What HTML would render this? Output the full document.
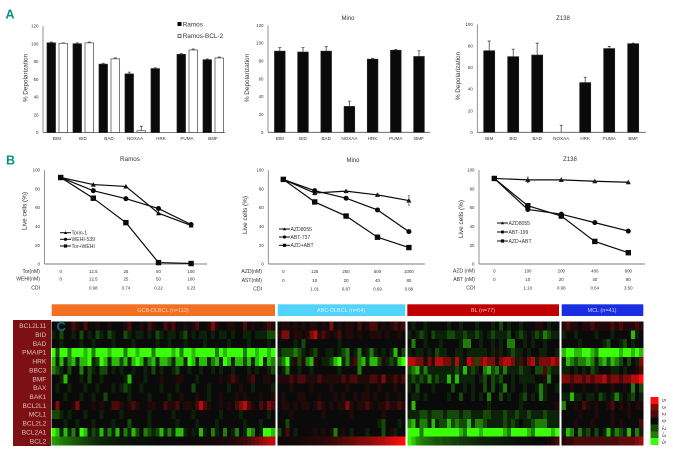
<!DOCTYPE html>
<html>
<head>
<meta charset="utf-8">
<title>BH3 profiling figure</title>
<style>
html,body{margin:0;padding:0;background:#fff;width:673px;height:451px;overflow:hidden}
svg{display:block;font-family:"Liberation Sans",sans-serif}
text{fill:#333}
</style>
</head>
<body>
<svg id="fig" width="673" height="451" viewBox="0 0 673 451" xmlns="http://www.w3.org/2000/svg">
  <text x="5.5" y="18.7" font-size="12.5" font-weight="bold" style="fill:#0f8c8c">A</text>
  <text x="6" y="164.7" font-size="12.5" font-weight="bold" style="fill:#0f8c8c">B</text>
  <text x="348" y="20" font-size="6" text-anchor="middle">Mino</text>
  <text x="563" y="20" font-size="6" text-anchor="middle">Z138</text>
  <text x="130" y="161" font-size="6.3" text-anchor="middle">Ramos</text>
  <text x="353" y="162" font-size="6" text-anchor="middle">Mino</text>
  <text x="570" y="161" font-size="6" text-anchor="middle">Z138</text>
  <rect x="177.5" y="22" width="4" height="4" fill="#000"/>
  <text x="182.7" y="26.6" font-size="6.4">Ramos</text>
  <rect x="178" y="34.5" width="3" height="3" fill="#fff" stroke="#333" stroke-width=".7"/>
  <text x="182.7" y="38" font-size="6.4">Ramos-BCL-2</text>
  <rect x="13" y="320" width="38" height="126" fill="#7c1012"/>
  <rect x="51.7" y="304.3" width="223.3" height="11.7" fill="#f36f21"/>
  <text x="163" y="312" font-size="5.5" text-anchor="middle" style="fill:#f6d9b8">GCB-DLBCL (n=112)</text>
  <rect x="277.7" y="304.3" width="127.6" height="11.7" fill="#52d3fa"/>
  <text x="341" y="312" font-size="5.5" text-anchor="middle" style="fill:#d8f4fc">ABC-DLBCL (n=64)</text>
  <rect x="407.3" y="304.3" width="151.7" height="11.7" fill="#c00000"/>
  <text x="483" y="312" font-size="5.5" text-anchor="middle" style="fill:#f0c0c0">BL (n=77)</text>
  <rect x="561.7" y="304.3" width="81.6" height="11.7" fill="#1a2fe2"/>
  <text x="602" y="312" font-size="5.5" text-anchor="middle" style="fill:#c8d0f8">MCL (n=41)</text>
</svg>
<script>
const barCategories = ['BIM','BID','BAD','NOXAA','HRK','PUMA','BMF'];
const ramosValues = [101,100,77,66,72,88,82];
const ramosErrors = [1,1,1,2,1,1,1];
const ramosBcl2Values = [100.5,101,83,2,0,93,84];
const ramosBcl2Errors = [0.5,1,1,5,0,1,1];
const minoValues = [91,90,91,29,82,92,85];
const minoErrors = [4,5,5,6,1,1,6.5];
const z138Values = [75.5,70,71.5,0,46,77.5,82];
const z138Errors = [9,7,11,6.5,5,2,0.5];
const barTicks120 = [0,20,40,60,80,100,120];
const barTicks100 = [0,20,40,60,80,100];
const lineTicks = [0,20,40,60,80,100];

const ramosTorin = [92,84.5,82.5,54,41];
const ramosWehi = [92,78,69.5,59,42];
const ramosCombo = [92,70,44,1.5,0.5];
const ramosSeriesNames = ['Torin-1','WEHI-539','Tor+WEHI'];
const ramosRowLabels = ['Tor(nM)','WEHI(nM)','CDI'];
const ramosRow1 = ['0','12.5','25','50','100'];
const ramosRow2 = ['0','12.5','25','50','100'];
const ramosCdi = ['','0.98','0.74','0.22','0.23'];

const minoAzd = [90,75.5,77.5,73.5,67.5];
const minoAbt = [90,78,70,57.5,34.5];
const minoCombo = [90,66,51,28.5,17.5];
const minoAzdErrors = [0,2,1,1.5,5];
const minoSeriesNames = ['AZD8055','ABT-737','AZD+ABT'];
const minoRowLabels = ['AZD(nM)','AST(nM)','CDI'];
const minoRow1 = ['0','125','250','500','1000'];
const minoRow2 = ['0','10','20','40','80'];
const minoCdi = ['','1.01','0.87','0.69','0.89'];

const z138Azd = [91,89.5,89.5,88,87];
const z138Abt = [91,58,53,44,35];
const z138Combo = [91,62,51,24,12];
const z138AzdErrors = [0,3,2,1,1];
const z138SeriesNames = ['AZD8055','ABT-199','AZD+ABT'];
const z138RowLabels = ['AZD (nM)','ABT (nM)','CDI'];
const z138Row1 = ['0','100','200','400','800'];
const z138Row2 = ['0','10','20','40','80'];
const z138Cdi = ['','1.10','0.98','0.64','3.50'];

const geneNames = ['BCL2L11','BID','BAD','PMAIP1','HRK','BBC3','BMF','BAX','BAK1','BCL2L1','MCL1','BCL2L2','BCL2A1','BCL2'];
const legendValues = [5,3,2,0,-2,-3,-5];

const gcbCells = [
[0,0,0,0,0,2,1,0,2,0,0,1,0,0,1,0,0,0,1,2,0,0,1,0,2,1,0,0,2,1,2,0,0,1,0,1,2,0,0,1,3,1,0,0,1,1,0,0,2,0,1,0,0,1,2,1],
[-1,0,-2,0,0,-1,0,-2,0,-1,0,-2,-1,0,-2,-1,0,0,-2,-1,0,-1,-1,0,-1,0,-2,-1,0,-1,-1,0,-1,-2,0,-1,0,-1,-1,0,-1,0,-1,-1,0,-1,0,0,-1,-1,0,-1,-1,-1,-2,-2],
[0,0,-1,0,0,0,0,-1,0,0,-1,0,0,0,0,-1,0,0,0,0,-1,0,0,0,0,0,-1,0,0,-1,0,0,0,-1,0,0,0,0,-1,0,0,0,0,0,-1,0,0,0,0,-1,0,0,0,0,-1,0],
[-5,-2,-5,-5,-3,-5,-5,-5,-4,-5,-3,-5,-5,-5,-4,-5,-5,-5,-3,-5,-5,-4,-5,-5,-5,-3,-5,-5,-5,-5,-4,-5,-3,-5,-5,-4,-5,-5,-5,-5,-5,-3,-5,-4,-5,-5,-5,-5,-3,-5,-5,-4,-5,-5,-4,-5],
[-4,-1,-4,-1,-3,-4,-1,-4,-4,-5,-1,-2,-5,-4,-1,-4,-4,-2,-4,-1,-4,-5,-4,-1,-3,-4,-1,-4,-4,-3,-1,-4,-4,-1,-5,-4,-1,-4,-4,-1,-3,-4,-1,-5,-4,-1,-4,-4,-2,-4,-1,-4,-5,-1,-4,-3],
[-3,-2,-1,0,-2,0,0,-3,0,-2,-1,0,-2,-2,0,-1,0,-1,0,0,-1,0,0,-1,0,-2,0,-1,0,0,-1,-2,0,0,-1,0,0,-1,0,0,-1,0,-1,0,0,-1,0,0,0,-1,0,-1,0,0,-1,-2],
[0,0,-1,-4,0,0,0,-1,0,-2,0,0,-1,0,0,0,0,0,-1,-4,0,0,0,-1,0,0,0,1,0,0,0,1,1,0,0,0,-1,0,0,0,0,0,1,0,1,2,1,0,0,1,2,0,0,1,1,0],
[0,-1,0,0,-1,0,0,0,-1,0,0,-1,0,0,0,-1,0,-1,-2,-1,0,0,-1,0,0,0,0,-1,0,0,0,-1,0,0,0,-2,0,0,0,-1,0,0,0,0,-1,0,0,1,0,0,-1,0,0,0,0,-1],
[0,0,0,-1,0,0,0,-1,0,0,-1,0,0,-2,0,0,0,0,0,-1,0,0,0,0,-1,0,0,0,0,-1,0,0,1,0,0,0,1,0,0,-1,0,0,1,0,0,0,1,0,1,0,0,0,1,0,0,1],
[0,3,0,0,0,1,3,0,0,0,1,0,1,0,0,2,2,1,0,1,2,1,0,0,1,1,0,0,2,1,1,2,0,1,1,0,2,4,2,1,0,0,1,0,1,0,2,3,4,2,1,0,2,1,3,2],
[-2,-2,-1,0,-1,0,0,0,-1,0,0,0,-1,0,0,0,0,-1,0,0,0,0,0,0,-1,0,0,0,0,0,-1,0,0,0,0,-1,0,0,0,0,0,0,-1,0,0,0,0,-1,0,0,0,0,0,0,-1,0],
[0,0,0,-1,0,0,-1,0,0,0,-1,0,0,0,0,-1,0,0,0,-2,0,0,0,0,-1,0,0,0,0,0,0,-1,0,0,0,0,-1,0,0,0,0,-1,0,0,0,0,0,0,-1,0,0,0,-1,0,0,0],
[-5,-4,-1,-4,-1,-3,0,-5,-4,0,-2,-1,-4,-1,-3,-1,-4,0,-3,-1,-4,-2,0,-3,-2,-1,-2,-4,-1,-3,-1,-4,-4,-1,0,-1,0,-4,-1,0,-3,-1,0,-3,0,-1,-3,0,-1,-4,-3,0,-1,-5,-5,-4],
[-3.5,-3.3,-3,-2.8,-2.6,-2.4,-2.2,-2,-1.8,-1.6,-1.4,-1.2,-1,-1,-.8,-.8,-.6,-.6,-.5,-.5,-.4,-.4,-.3,-.3,-.2,-.2,0,0,0,0,0,0,0,0,.2,.2,.3,.3,.4,.4,.5,.6,.7,.8,.9,1,1.2,1.4,1.7,2,2.4,2.8,3.2,3.6,4,4]
];
const abcCells = [
[0,1,1,0,1,0,1,0,1,1,0,1,0,3,0,1,0,1,1,0,2,0,1,2,2,0,1,0,1,2,1,2],
[1,3,3,0,1,1,0,1,3,4,1,2,1,0,1,2,0,1,1,0,1,0,0,1,1,1,0,1,0,0,1,0],
[0,0,0,0,-1,0,-2,0,0,0,0,0,0,0,0,-1,0,0,0,0,0,0,0,0,0,0,0,0,0,0,0,0],
[-1,-2,-2,-2,-3,-2,-1,0,-1,-2,0,0,-1,-1,0,-1,-2,-3,0,-1,-3,0,-1,-3,-1,0,-1,0,-1,-4,0,-2],
[-2,-3,-5,-1,1,-2,1,-3,-4,1,0,-1,-1,-2,-4,-5,-1,-3,1,2,-3,-4,-1,-4,-4,-2,1,-1,-2,-1,-4,-5],
[0,-1,-3,0,0,-1,0,0,-1,0,0,0,0,0,0,-1,0,0,0,0,-3,0,0,0,0,0,0,0,0,0,0,0],
[1,1,1,2,1,2,2,1,1,1,2,1,1,1,1,1,2,1,2,2,1,1,1,2,2,1,3,1,1,2,1,2],
[0,0,0,1,0,0,0,0,1,0,0,0,0,1,0,0,0,1,0,0,0,0,1,0,0,1,0,0,0,1,0,0],
[0,1,0,0,0,1,1,0,0,0,1,0,0,0,1,0,1,0,0,1,0,1,1,0,1,0,0,1,0,0,1,0],
[0,1,1,0,1,0,1,1,0,1,2,1,0,1,0,1,1,3,1,0,1,1,2,1,0,1,1,2,1,1,2,1],
[0,0,0,1,0,0,0,0,0,0,0,1,0,0,0,0,0,0,1,0,0,0,0,0,0,0,1,0,0,0,0,0],
[0,0,-2,0,0,0,0,0,0,0,0,0,0,0,0,0,0,0,0,0,0,0,0,0,0,-1,-2,0,0,0,-1,0],
[-2,0,2,0,-1,0,0,0,0,1,0,1,0,1,-3,0,1,0,-1,0,0,0,-1,0,0,0,-2,0,1,-1,0,0],
[.2,.2,.4,.5,.6,.7,.8,.9,1,1.1,1.2,1.3,1.4,1.6,1.8,2,2.2,2.4,2.6,2.8,3,3,3.2,3.4,3.6,3.8,4,4.2,4.4,4.6,4.8,5]
];
const blCells = [
[0,-1,0,0,-1,0,0,0,0,0,-1,0,0,-1,0,0,0,-1,0,0,0,-1,0,-2,0,-1,0,0,-1,0,0,0,1,1,0,-1,0,0],
[-1,0,-1,-2,-1,0,-2,-1,-1,-1,-2,-2,-1,-1,-2,-1,-1,-2,-1,0,-1,-2,-1,-1,-1,-2,0,-1,-2,-1,0,-1,-2,-1,-3,-2,-1,-1],
[0,-3,0,0,-1,0,0,0,-1,0,0,0,0,-1,-3,-3,0,0,-1,0,0,-1,0,-1,0,-3,-3,0,0,-1,0,-1,0,0,-1,0,0,0],
[-1,0,-1,-1,0,-1,0,-2,-1,-1,0,0,-1,-1,0,-1,-1,-1,-1,-1,0,-1,1,-1,0,-1,-2,-1,-1,0,-1,0,0,-1,-1,0,0,-1],
[4,4,3,3,1,3,1,4,4,3,3,-1,4,-1,1,4,3,-2,3,4,3,3,1,3,4,4,3,-1,2,1,3,4,-1,3,3,3,4,3],
[-2,-3,-4,-1,-3,-1,-1,-1,-1,-1,-1,-1,-2,-1,-4,-1,-2,-1,0,-3,-4,-2,-3,-1,-3,-1,-1,-1,-2,-1,-1,0,-2,-2,2,-2,-1,-1],
[-1,-2,-1,-2,-1,-3,-1,-2,-1,-1,-4,-1,-4,-1,-1,-1,-1,0,-1,-2,0,-2,-1,-2,0,0,-1,0,-1,-1,-1,-1,0,0,1,-3,0,0],
[-1,0,-2,0,0,0,-1,0,0,0,0,-2,0,0,-1,0,-1,0,0,-2,0,-2,0,-1,-3,0,-1,0,0,-1,0,0,-1,-3,-1,0,0,-1],
[0,-1,-1,0,-1,0,0,0,0,0,-1,0,0,-2,0,0,-1,0,-1,0,-3,0,0,-2,0,-1,0,0,-1,-2,0,-1,0,-3,-1,0,0,0],
[0,-4,0,0,0,0,0,0,0,0,0,0,0,0,0,0,0,0,0,0,-1,0,0,0,0,0,0,0,-1,0,0,0,0,0,0,0,0,1],
[-1,-1,-1,-2,-2,-1,-2,-2,-2,-1,-2,-2,-2,-1,-2,-2,-1,-1,-1,-2,-2,-1,-1,-1,-2,-1,-1,-2,-1,-1,-2,-1,-1,-1,-2,-1,-1,-1],
[-3,-4,-1,-3,-3,-1,-4,-1,-2,-2,-4,-2,-3,-2,-2,-4,-1,-3,-3,-2,-1,-1,-1,-1,-2,-1,-2,-1,0,-1,-1,-2,-3,-3,-3,-1,-1,-1],
[-5,-5,-5,-3,-5,-5,-5,-5,-5,-5,-5,-5,-5,-4,-3,-5,-5,-5,-4,-5,-5,-5,-5,-5,-4,-3,-5,-5,-5,-5,-4,-3,-5,-5,-5,-5,-4,-5],
[-4.8,-4.2,-3.4,-3,-2.8,-2.6,-2.4,-2.2,-2.2,-2,-2,-1.8,-1.8,-1.6,-1.5,-1.4,-1.3,-1.2,-1.1,-1,-1,-.9,-.8,-.7,-.6,-.5,-.5,-.4,-.3,-.3,-.2,-.1,0,0,.2,.6,1.2,1.8]
];
const mclCells = [
[1,2,1,1,0,1,1,2,1,1,1,1,2,1,2,1,1,1,2,1],
[-1,0,0,-1,0,0,0,0,-1,0,0,0,-1,0,0,0,0,-4,-1,0],
[0,0,0,0,-1,0,0,0,0,0,-1,-2,0,0,-1,-2,0,-1,0,0],
[-4,-5,-5,-4,-4,-5,-5,-4,-3,-5,-5,-5,-5,-5,-4,-5,-5,-4,-5,-4],
[-1,-4,-3,-2,-3,-3,-4,-3,-1,-3,-4,-2,-4,-3,-2,0,-2,0,-1,3],
[-1,-1,0,-1,0,-1,0,-2,-1,0,0,0,-1,-1,0,-1,0,0,1,2],
[3,3,2,3,3,2,3,2,3,3,4,2,3,3,2,3,3,4,4,5],
[0,0,1,0,0,1,0,0,1,0,0,0,1,0,0,1,0,-3,0,-2],
[-1,-1,-4,-1,-1,0,-1,-1,0,-2,-1,0,-1,-3,-1,0,-1,-2,0,-1],
[-3,0,0,1,0,2,1,0,1,0,0,1,2,0,1,0,1,0,1,1],
[0,0,0,0,1,0,0,0,1,0,0,0,1,0,0,0,1,0,0,0],
[0,0,0,1,0,0,0,1,0,0,0,0,1,0,1,0,0,0,0,2],
[-1,-4,-3,0,-3,-1,-2,0,-2,0,-1,-4,-1,-3,-2,-1,-4,0,-3,-1],
[1,1.5,1.5,2,2,2,2,2,2,2,2,2,2,2,2.5,2.5,2.5,2.5,3,3.5]
];

const svg = document.getElementById('fig');
const NS = 'http://www.w3.org/2000/svg';
function add(tag, attrs, text){
  const el = document.createElementNS(NS, tag);
  for (const k in attrs) el.setAttribute(k, attrs[k]);
  if (text !== undefined) el.textContent = text;
  svg.appendChild(el);
  return el;
}
function makeScale(v0, p0, v1, p1){ return v => p0 + (v - v0) * (p1 - p0) / (v1 - v0); }

function drawAxes(prefix, x0, x1, yBase, yTop, ticks, y, fs){
  let el = add('line',{x1:x0,y1:yTop,x2:x0,y2:yBase,stroke:'#777','stroke-width':.8});
  
  
  el = add('line',{x1:x0,y1:yBase,x2:x1,y2:yBase,stroke:'#555','stroke-width':.8});
  
  
  ticks.forEach(t => {
    const lab = add('text',{x:x0-4.5,y:y(t)+1.6,'font-size':fs,'text-anchor':'end'},String(t));
    
    
  });
}
function yTitle(prefix, text, x, y, fs){
  const el = add('text',{x:x,y:y,'font-size':fs,'text-anchor':'middle',transform:'rotate(-90 '+x+' '+y+')'},text);
  
  
}
function drawBar(prefix, cat, x, w, value, err, y, fill){
  const base = y(0);
  const top = y(value);
  const errTop = y(value + err);
  const cx = x + w/2;
  if (err > 0) {
    const eb = add('path',{d:'M'+cx+' '+top+'V'+errTop+'M'+(cx-1.5)+' '+errTop+'H'+(cx+1.5),stroke:'#444','stroke-width':.8,fill:'none'});
    
    
  }
  const r = add('rect',{x:x,y:top,width:w,height:Math.max(base-top,0),fill:fill,stroke:fill==='#fff'?'#444':'#222','stroke-width':.7});
  
  
}
function catLabel(prefix, cat, x, y){
  const el = add('text',{x:x,y:y,'font-size':4.6,'text-anchor':'middle'},cat);
  
  
}

/* Panel A: Ramos */
(function(){
  const y = makeScale(0,132.5,120,26);
  drawAxes('ramos-depolarization',43,225,132.5,26,barTicks120,y,4.4);
  yTitle('ramos-depolarization','% Depolarization',27.5,78,6.4);
  barCategories.forEach((c,i) => {
    const x = 47 + i*26;
    drawBar('ramos',c,x,8.5,ramosValues[i],ramosErrors[i],y,'#0a0a0a');
    drawBar('ramos-bcl2',c,x+12,8.5,ramosBcl2Values[i],ramosBcl2Errors[i],y,'#fff');
    catLabel('ramos-depolarization',c,x+10,140);
  });
})();
/* Panel A: Mino */
(function(){
  const y = makeScale(0,132.3,120,25.3);
  drawAxes('mino-depolarization',268,430,132.3,25.3,barTicks120,y,4.4);
  yTitle('mino-depolarization','% Depolarization',249,78,6.4);
  barCategories.forEach((c,i) => {
    const x = 274.5 + i*23.2;
    drawBar('mino',c,x,10.6,minoValues[i],minoErrors[i],y,'#0a0a0a');
    catLabel('mino-depolarization',c,x+5.3,140);
  });
})();
/* Panel A: Z138 */
(function(){
  const y = makeScale(0,132.3,100,24.3);
  drawAxes('z138-depolarization',477.3,645.7,132.3,24.3,barTicks100,y,4.4);
  yTitle('z138-depolarization','% Depolarization',460,76,6.4);
  barCategories.forEach((c,i) => {
    const x = 483.7 + i*24;
    drawBar('z138',c,x,11,z138Values[i],z138Errors[i],y,'#0a0a0a');
    catLabel('z138-depolarization',c,x+5.5,140);
  });
})();

function drawMarker(kind, cx, cy, s){
  if (kind === 'tri') return add('polygon',{points:(cx-s)+','+(cy+s*.8)+' '+(cx+s)+','+(cy+s*.8)+' '+cx+','+(cy-s),fill:'#0a0a0a'});
  if (kind === 'dot') return add('circle',{cx:cx,cy:cy,r:s,fill:'#0a0a0a'});
  return add('rect',{x:cx-s,y:cy-s,width:2*s,height:2*s,fill:'#0a0a0a'});
}
function drawLinePanel(o){
  const y = makeScale(0,264,100,170);
  const x = i => o.px0 + i*o.dx;
  drawAxes(o.prefix,o.ax0,o.ax1,264,170,lineTicks,y,4.4);
  yTitle(o.prefix,'Live cells (%)',o.titleX,o.titleY,6.4);
  const kinds = ['tri','dot','sq'];
  o.series.forEach((vals,s) => {
    const pts = vals.map((v,i) => x(i)+','+y(v)).join(' ');
    const line = add('polyline',{points:pts,fill:'none',stroke:'#0a0a0a','stroke-width':1.2});
    
    
    vals.forEach((v,i) => {
      const m = drawMarker(kinds[s],x(i),y(v),kinds[s]==='sq'?2.7:2.5);
      
      
      if (s === 0 && o.errors && o.errors[i] > 0) {
        const e = add('path',{d:'M'+x(i)+' '+y(v-o.errors[i])+'V'+y(v+o.errors[i])+'M'+(x(i)-1)+' '+y(v+o.errors[i])+'H'+(x(i)+1)+'M'+(x(i)-1)+' '+y(v-o.errors[i])+'H'+(x(i)+1),stroke:'#333','stroke-width':.6,fill:'none'});
        
        
      }
    });
    const ly = o.legendY[s];
    const ll = add('line',{x1:o.legendX,y1:ly,x2:o.legendX+11,y2:ly,stroke:'#0a0a0a','stroke-width':1});
    
    
    const lm = drawMarker(kinds[s],o.legendX+5.5,ly,1.6);
    
    
    const lt = add('text',{x:o.legendX+11.5,y:ly+1.8,'font-size':5.1},o.names[s]);
    
    
  });
  o.rows.forEach((row,r) => {
    const lab = add('text',{x:o.labelX,y:o.rowY[r]+1.7,'font-size':5.1,'text-anchor':'end'},o.rowLabels[r]);
    
    
    row.forEach((t,i) => {
      const c = add('text',{x:x(i),y:o.rowY[r]+1.6,'font-size':4.4,'text-anchor':'middle'},t);
      
      
    });
  });
}
drawLinePanel({prefix:'ramos-viability',ax0:44.5,ax1:207,px0:60.7,dx:32.6,titleX:26.5,titleY:211,
  series:[ramosTorin,ramosWehi,ramosCombo],names:ramosSeriesNames,legendX:60,legendY:[232.7,239.3,246],
  rows:[ramosRow1,ramosRow2,ramosCdi],rowLabels:ramosRowLabels,rowY:[271.5,279,288],labelX:40});
drawLinePanel({prefix:'mino-viability',ax0:268.3,ax1:425,px0:283.3,dx:31.4,titleX:247,titleY:215,errors:minoAzdErrors,
  series:[minoAzd,minoAbt,minoCombo],names:minoSeriesNames,legendX:279,legendY:[229,237,245.3],
  rows:[minoRow1,minoRow2,minoCdi],rowLabels:minoRowLabels,rowY:[271.5,280.5,289],labelX:262});
drawLinePanel({prefix:'z138-viability',ax0:479,ax1:645,px0:494.3,dx:33.5,titleX:463,titleY:219,errors:z138AzdErrors,
  series:[z138Azd,z138Abt,z138Combo],names:z138SeriesNames,legendX:497,legendY:[223,232,241],
  rows:[z138Row1,z138Row2,z138Cdi],rowLabels:z138RowLabels,rowY:[270.7,279.3,287.7],labelX:475});

/* Panel C: heatmap */
function heatColor(v){
  const a = Math.pow(Math.min(Math.abs(v),5)/5, 1.5);
  if (v > 0) return 'rgb(' + Math.round(12 + a*240) + ',' + Math.round(8 + a*6) + ',' + Math.round(8 + a*6) + ')';
  if (v < 0) return 'rgb(' + Math.round(8 + a*50) + ',' + Math.round(12 + a*243) + ',8)';
  return 'rgb(10,10,10)';
}
const rowTop = 321.5;
const rowH = 8.86;
function rowY(r){ return rowTop + r*rowH; }
geneNames.forEach((g,r) => {
  const t = add('text',{x:46.3,y:rowY(r)+6.6,'font-size':6.6,'text-anchor':'end',style:'fill:#dcc0c0'},g);
  
  
});
function drawHeat(prefix, cells, x0, w){
  cells.forEach((row,r) => {
    const cw = w/row.length;
    row.forEach((v,i) => {
      const c = add('rect',{x:x0+i*cw,y:rowY(r),width:cw+.3,height:rowH+.2,fill:heatColor(v),'shape-rendering':'crispEdges'});
      
      
    });
  });
}
drawHeat('gcb',gcbCells,51.7,223.3);
drawHeat('abc',abcCells,277.7,127.6);
drawHeat('bl',blCells,407.3,151.7);
drawHeat('mcl',mclCells,561.7,81.6);

const letterC = add('text',{x:56.5,y:331,'font-size':13,'font-weight':'bold',style:'fill:#116a78'},'C');



legendValues.forEach((v,i) => {
  const h = 48/legendValues.length;
  const s = add('rect',{x:650.7,y:397+i*h,width:7.6,height:h+.2,fill:heatColor(v),'shape-rendering':'crispEdges'});
  
  
  const ty = 397+i*h+h/2;
  const t = add('text',{x:662,y:ty,'font-size':5.5,'text-anchor':'middle',transform:'rotate(90 662 '+ty+')'},String(v));
  
  
});
</script>
</body>
</html>
